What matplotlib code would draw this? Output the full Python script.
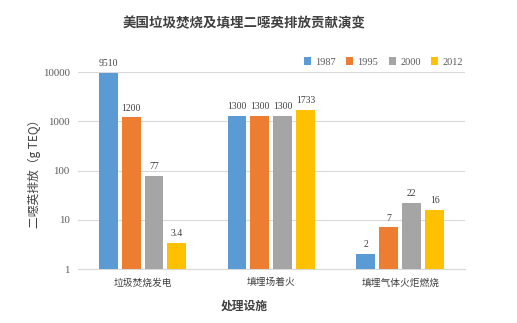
import numpy as np
import matplotlib
matplotlib.use('Agg')
import matplotlib.pyplot as plt
from matplotlib.ticker import FixedLocator, NullLocator

plt.rcParams['font.family'] = ['Noto Sans CJK SC', 'DejaVu Sans']

# data
categories = ['垃圾焚烧发电', '填埋场着火', '填埋气体火炬燃烧']
years = ['1987', '1995', '2000', '2012']
values = {
    '1987': [9510, 1300, 2],
    '1995': [1200, 1300, 7],
    '2000': [77, 1300, 22],
    '2012': [3.4, 1733, 16],
}
value_labels = {
    '1987': ['9510', '1300', '2'],
    '1995': ['1200', '1300', '7'],
    '2000': ['77', '1300', '22'],
    '2012': ['3.4', '1733', '16'],
}
colors = ['#5B9BD5', '#ED7D31', '#A5A5A5', '#FFC000']
yticks = [1, 10, 100, 1000, 10000]

fig = plt.figure(figsize=(5.17, 3.23), dpi=100)
ax = fig.add_axes([0.151, 0.167, 0.748, 0.61])

x = np.arange(len(categories))
step = 0.178
width = 0.147
for i, yr in enumerate(years):
    pos = x + (i - 1.5) * step
    ax.bar(pos, values[yr], width=width, color=colors[i], label=yr, zorder=3)
    for px, v, lab in zip(pos, values[yr], value_labels[yr]):
        ax.text(px, v * 1.25, lab, ha='center', va='bottom', fontsize=7,
                color='#404040', family=['Liberation Serif'])

ax.set_yscale('log')
ax.set_ylim(1, 10000)
ax.set_xlim(-0.5, 2.5)
ax.yaxis.set_major_locator(FixedLocator(yticks))
ax.yaxis.set_minor_locator(NullLocator())
ax.set_yticklabels([str(t) for t in yticks], family=['Liberation Serif'], fontsize=7.8, color='#595959')
ax.set_xticks(x)
ax.set_xticklabels(categories, fontsize=7, color='#404040')
ax.tick_params(length=0, pad=6)
ax.grid(axis='y', color='#D9D9D9', linewidth=0.8, zorder=0)
for s in ['top', 'right', 'left']:
    ax.spines[s].set_visible(False)
ax.spines['bottom'].set_color('#D9D9D9')

ax.set_ylabel('二噁英排放（g TEQ）', fontsize=8.5, color='#404040')
ax.yaxis.set_label_coords(-0.096, 0.5)
ax.set_xlabel('处理设施', fontsize=8.5, color='#404040', fontweight='bold')
ax.xaxis.set_label_coords(0.43, -0.155)

fig.text(0.472, 0.929, '美国垃圾焚烧及填埋二噁英排放贡献演变', ha='center', va='center',
         fontsize=9.7, color='#404040', fontweight='bold')

leg = ax.legend(loc='lower right', bbox_to_anchor=(1.02, 0.98), ncol=4, frameon=False,
                handlelength=0.7, handleheight=0.7, columnspacing=1.0,
                handletextpad=0.4, prop={'family': 'Liberation Serif', 'size': 7.5})
for t in leg.get_texts():
    t.set_color('#595959')

fig.savefig('out.png', dpi=100)
